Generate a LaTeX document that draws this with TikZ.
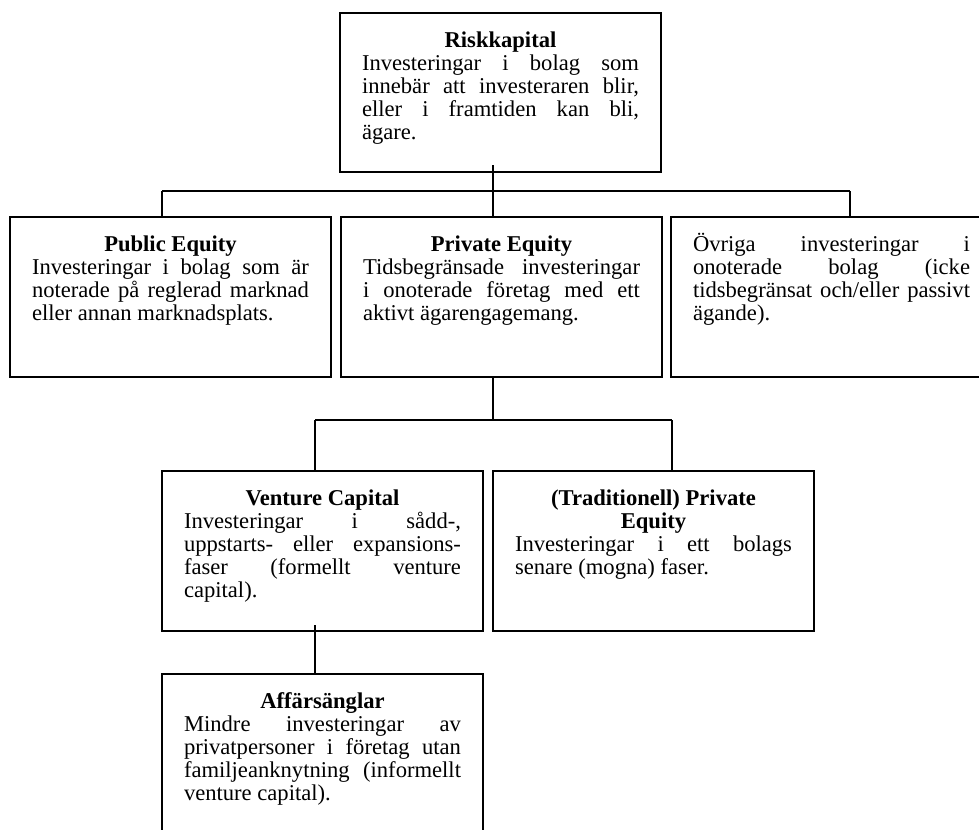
\documentclass[tikz,border=0pt]{standalone}
\usepackage{fontspec}
\setmainfont{Liberation Serif}
\usetikzlibrary{calc}
\newdimen\pxu \pxu=0.75pt
\newcommand\boxtext[2]{\parbox[c][#1\pxu][t]{277\pxu}{\lineskiplimit=-100pt\lineskip=0pt #2}}
\newcommand\firstl{\rule{0pt}{34\pxu}}
\newcommand\ttl[1]{\makebox[\linewidth][c]{\bfseries #1}\par}
\newcommand\jl[1]{\makebox[\linewidth][s]{#1}\par}
\newcommand\lastl[1]{\makebox[\linewidth][l]{#1}\par}
\tikzset{
  infobox/.style={draw, line width=1.5pt, anchor=north west, inner xsep=22\pxu,
    inner ysep=0pt, outer sep=0pt, font=\fontsize{16.95pt}{17.25pt}\selectfont},
  conn/.style={line width=1.15pt}
}
\begin{document}
\begin{tikzpicture}[x=0.75pt,y=-0.75pt]
\clip (0,0) rectangle (979,829);
\fill[white] (0,0) rectangle (979,829);

\node[infobox] (risk) at (340,13) {\boxtext{159}{%
  \firstl\ttl{Riskkapital}%
  \jl{Investeringar i bolag som}%
  \jl{innebär att investeraren blir,}%
  \jl{eller i framtiden kan bli,}%
  \lastl{ägare.}}};

\node[infobox] (pub) at (10,217) {\boxtext{160}{%
  \firstl\ttl{Public Equity}%
  \jl{Investeringar i bolag som är}%
  \jl{noterade på reglerad marknad}%
  \lastl{eller annan marknadsplats.}}};

\node[infobox] (priv) at (341,217) {\boxtext{160}{%
  \firstl\ttl{Private Equity}%
  \jl{Tidsbegränsade investeringar}%
  \jl{i onoterade företag med ett}%
  \lastl{aktivt ägarengagemang.}}};

\node[infobox] (oth) at (671,217) {\boxtext{160}{%
  \firstl\jl{Övriga investeringar i}%
  \jl{onoterade bolag (icke}%
  \jl{tidsbegränsat och/eller passivt}%
  \lastl{ägande).}}};

\node[infobox] (vc) at (162,471) {\boxtext{160}{%
  \firstl\ttl{Venture Capital}%
  \jl{Investeringar i sådd-,}%
  \jl{uppstarts- eller expansions-}%
  \jl{faser (formellt venture}%
  \lastl{capital).}}};

\node[infobox] (trad) at (493,471) {\boxtext{160}{%
  \firstl\ttl{(Traditionell) Private}%
  \ttl{Equity}%
  \jl{Investeringar i ett bolags}%
  \lastl{senare (mogna) faser.}}};

\node[infobox] (aff) at (162,674) {\boxtext{180}{%
  \firstl\ttl{Affärsänglar}%
  \jl{Mindre investeringar av}%
  \jl{privatpersoner i företag utan}%
  \jl{familjeanknytning (informellt}%
  \lastl{venture capital).}}};

\coordinate (t1) at (493,191);
\coordinate (l1) at (162,191);
\coordinate (r1) at (850,191);
\coordinate (t2) at (493,420);
\coordinate (l2) at (315,420);
\coordinate (r2) at (672,420);

\draw[conn] ($(t1|-risk.south)+(0,-7)$) -- (t1|-priv.north);
\draw[conn] (l1) -- (r1);
\draw[conn] (l1) -- (l1|-pub.north);
\draw[conn] (r1) -- (r1|-oth.north);

\draw[conn] (t2|-priv.south) -- (t2);
\draw[conn] (l2) -- (r2);
\draw[conn] (l2) -- (l2|-vc.north);
\draw[conn] (r2) -- (r2|-trad.north);

\draw[conn] ($(l2|-vc.south)+(0,-6)$) -- (l2|-aff.north);
\end{tikzpicture}
\end{document}
